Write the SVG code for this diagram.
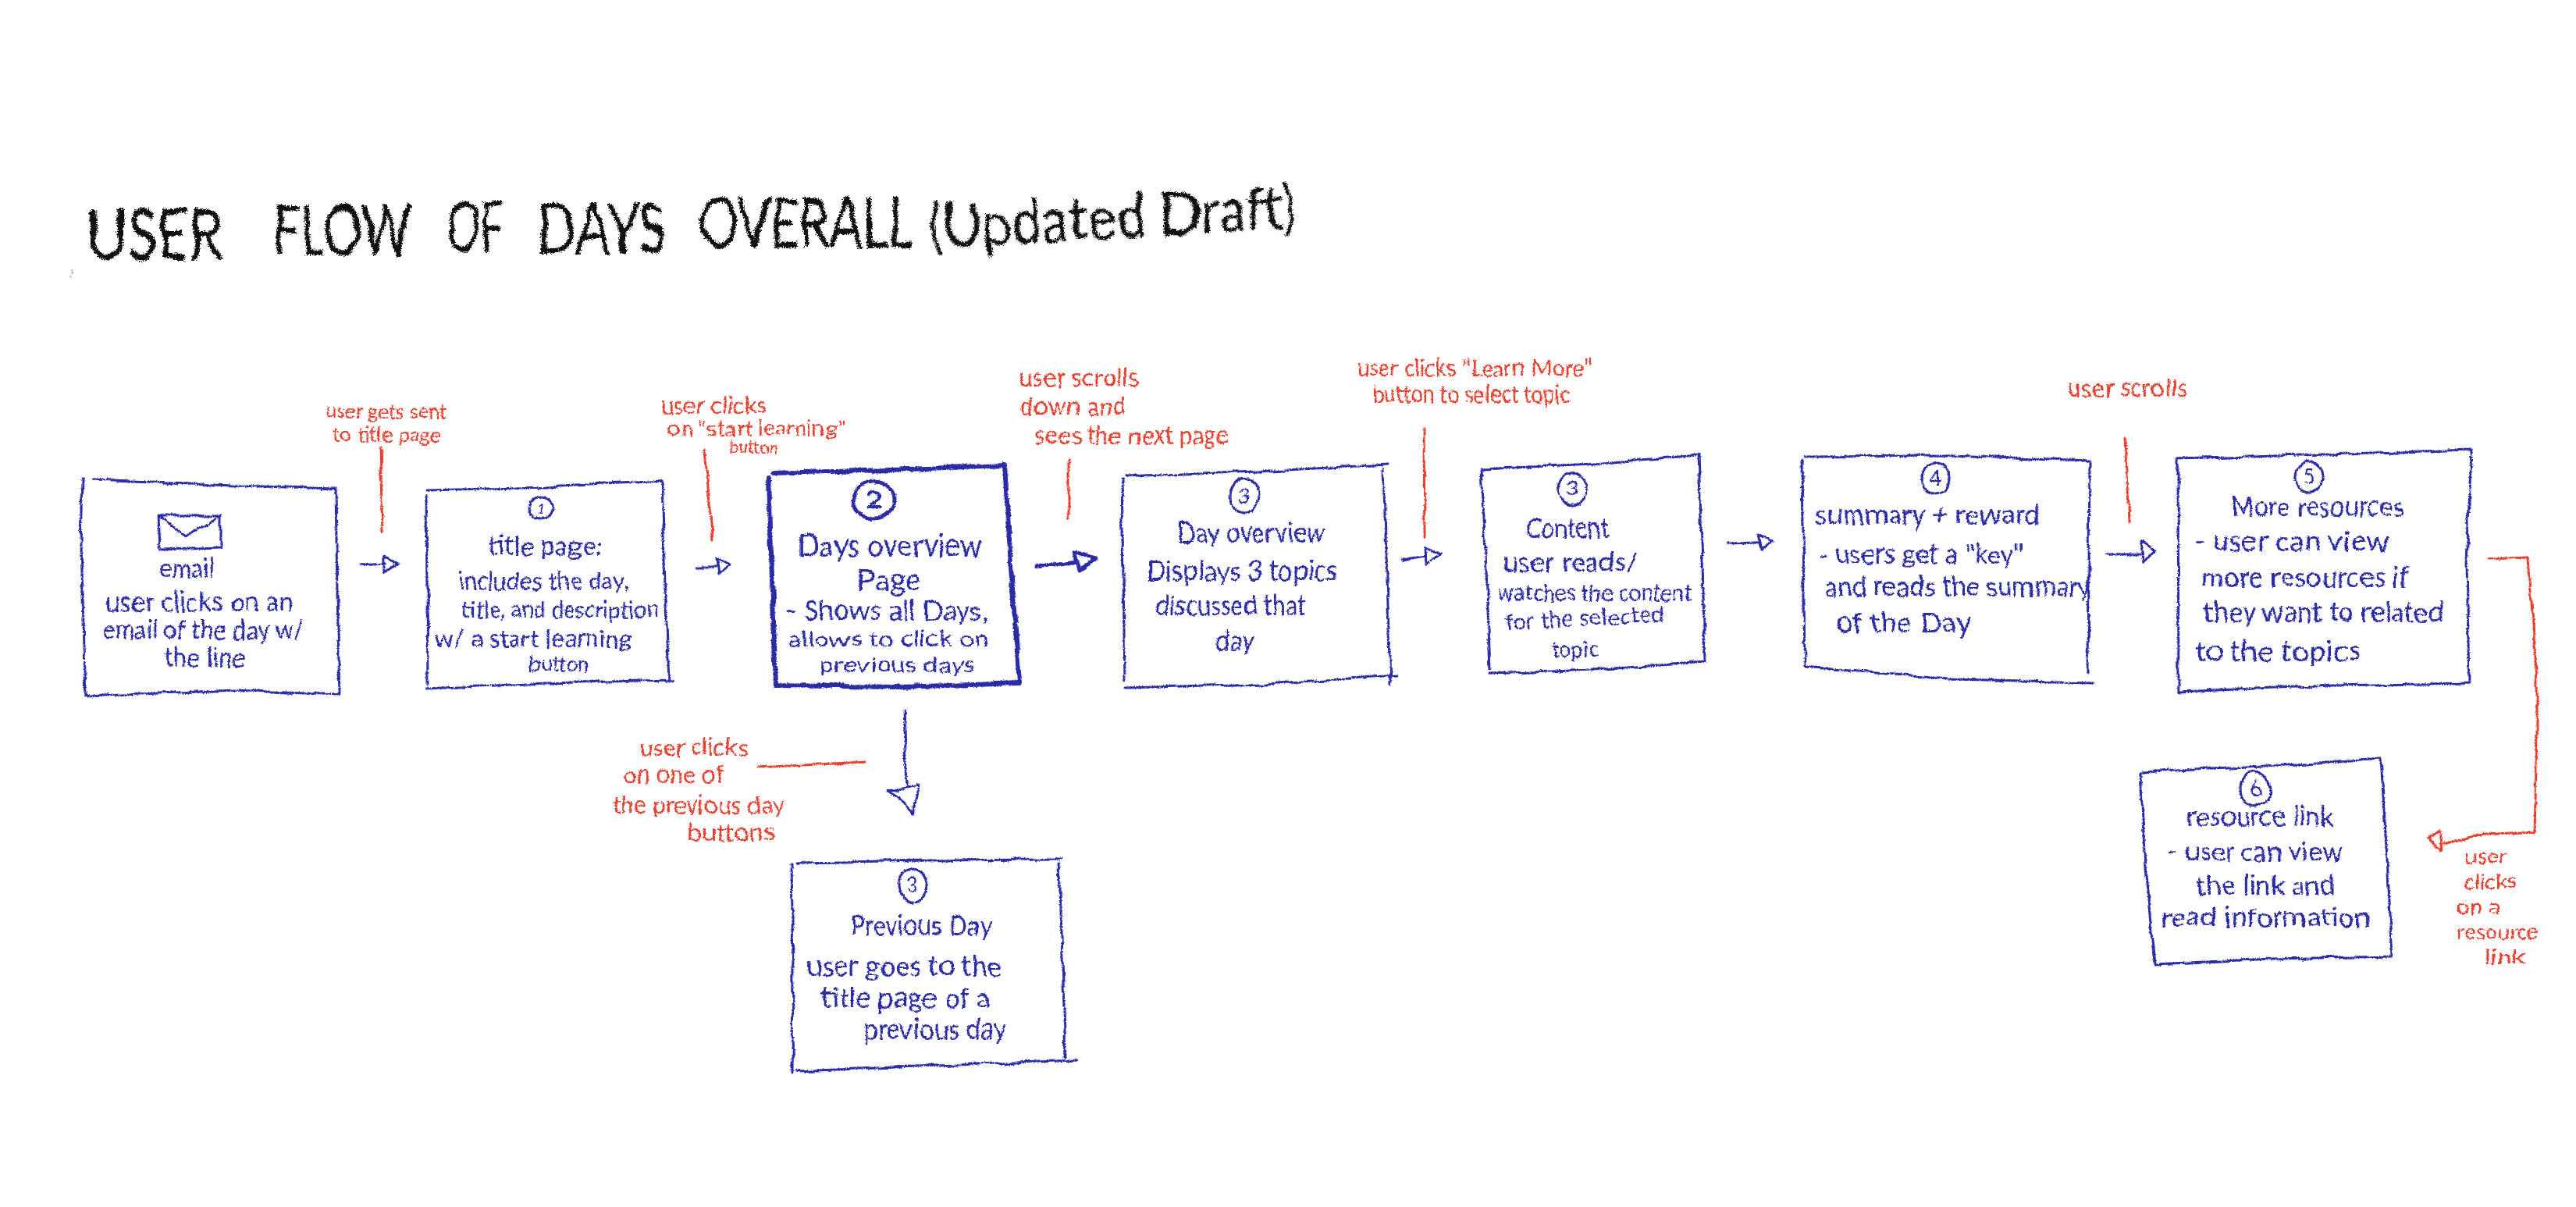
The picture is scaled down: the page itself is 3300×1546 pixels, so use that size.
<svg xmlns="http://www.w3.org/2000/svg" width="3300" height="1546" viewBox="0 0 3300 1546">
<style>
text{font-family:"Lato","Liberation Sans",sans-serif;}
.b{fill:#2b2ba6;font-size:34px;}
.bs{fill:#2b2ba6;font-size:30px;}
.bl{fill:#2b2ba6;font-size:41px;}
.m{fill:#2b2ba6;font-size:37px;}
.r{fill:#e8402e;font-size:27px;}
.rl{fill:#e8402e;font-size:33px;}
.rm{fill:#e8402e;font-size:30px;}
.n{fill:#2b2ba6;font-size:26px;text-anchor:middle;}
.t{fill:#111;font-size:92px;font-weight:400;}
.box,.circ,.ln{fill:none;stroke:#2b2ba6;stroke-width:3;stroke-linecap:round;stroke-linejoin:round;}
.thick{stroke-width:6;}
.red{fill:none;stroke:#e8402e;stroke-width:3;stroke-linecap:round;stroke-linejoin:round;}
</style>
<defs>
<filter id="rough" filterUnits="userSpaceOnUse" x="0" y="0" width="3300" height="1546" color-interpolation-filters="sRGB">
<feTurbulence type="fractalNoise" baseFrequency="0.035" numOctaves="2" seed="3" result="n1"/>
<feDisplacementMap in="SourceGraphic" in2="n1" scale="7" xChannelSelector="R" yChannelSelector="G" result="d1"/>
<feTurbulence type="fractalNoise" baseFrequency="0.7" numOctaves="1" seed="8" result="n2"/>
<feDisplacementMap in="d1" in2="n2" scale="3.5" xChannelSelector="G" yChannelSelector="R"/>
</filter>
<filter id="grain" filterUnits="userSpaceOnUse" x="0" y="180" width="1800" height="220" color-interpolation-filters="sRGB">
<feTurbulence type="fractalNoise" baseFrequency="0.04" numOctaves="2" seed="5" result="n1"/>
<feDisplacementMap in="SourceGraphic" in2="n1" scale="10" xChannelSelector="R" yChannelSelector="G" result="d1"/>
<feTurbulence type="fractalNoise" baseFrequency="0.6" numOctaves="2" seed="11" result="n2"/>
<feDisplacementMap in="d1" in2="n2" scale="7" xChannelSelector="G" yChannelSelector="R"/>
</filter>
</defs>
<rect width="3300" height="1546" fill="#fff"/>
<g id="title" filter="url(#grain)">
<text class="t"><tspan x="111" y="332" textLength="175" lengthAdjust="spacingAndGlyphs">USER</tspan> <tspan x="350" y="327" textLength="176" lengthAdjust="spacingAndGlyphs">FLOW</tspan> <tspan x="573" y="323" textLength="71" lengthAdjust="spacingAndGlyphs">OF</tspan> <tspan x="688" y="325" textLength="166" lengthAdjust="spacingAndGlyphs">DAYS</tspan> <tspan x="895" y="318" textLength="275" lengthAdjust="spacingAndGlyphs">OVERALL</tspan></text>
<text class="t" x="1191" y="318" textLength="472" lengthAdjust="spacingAndGlyphs" transform="rotate(-3.2 1191 318)" style="font-size:78px">(Updated Draft)</text>
<path d="M91 355L94 347" stroke="#aaa" stroke-width="1.5" fill="none"/>
</g>
<g filter="url(#rough)">
<g id="connectors">
<path class="red" d="M487 573L490 681"/>
<path class="ln" d="M462 724L494 722M492 713L510 722L492 733Z"/>
<path class="red" d="M903 577L913 692"/>
<path class="ln" d="M891 727L918 727M918 716L935 724L921 737Z"/>
<path class="red" d="M1369 587L1369 665"/>
<path class="ln thick" d="M1330 727L1379 720M1376 708L1404 715L1381 731Z" style="stroke-width:5"/>
<path class="red" d="M1824 549L1825 688"/>
<path class="ln" d="M1796 717L1826 712M1826 700L1846 710L1827 723Z"/>
<path class="ln" d="M2213 695L2252 694M2252 684L2269 693L2257 702Z"/>
<path class="red" d="M2723 562L2728 669"/>
<path class="ln" d="M2698 710L2746 710M2744 694L2762 706L2746 720Z"/>
<path class="ln" d="M1158 911L1162 1006M1177 1006L1138 1013Q1160 1024 1169 1042Z"/>
<path class="red" d="M970 983L1108 976"/>
<path class="red" d="M3188 716L3239 714L3250 872L3250 939L3247 1065L3170 1070L3130 1081M3109 1074L3125 1065L3128 1091Z"/>
</g>
<g id="annotations">
<text class="r" x="416" y="536" textLength="157" lengthAdjust="spacingAndGlyphs">user gets sent</text>
<text class="r" x="427" y="566" textLength="137" lengthAdjust="spacingAndGlyphs">to title page</text>
<text class="rm" x="846" y="530" textLength="136" lengthAdjust="spacingAndGlyphs">user clicks</text>
<text class="r" x="855" y="558" textLength="228" lengthAdjust="spacingAndGlyphs">on "start learning"</text>
<text class="r" x="935" y="581" textLength="61" lengthAdjust="spacingAndGlyphs" style="font-size:23px">button</text>
<text class="rl" x="1305" y="495" textLength="154" lengthAdjust="spacingAndGlyphs">user scrolls</text>
<text class="rl" x="1307" y="532" textLength="136" lengthAdjust="spacingAndGlyphs">down and</text>
<text class="rl" x="1327" y="569" textLength="247" lengthAdjust="spacingAndGlyphs">sees the next page</text>
<text class="rm" x="1737" y="482" textLength="302" lengthAdjust="spacingAndGlyphs">user clicks "Learn More"</text>
<text class="rm" x="1759" y="516" textLength="253" lengthAdjust="spacingAndGlyphs">button to select topic</text>
<text class="rl" x="2649" y="508" textLength="153" lengthAdjust="spacingAndGlyphs">user scrolls</text>
<text class="rm" x="819" y="968" textLength="139" lengthAdjust="spacingAndGlyphs">user clicks</text>
<text class="rm" x="798" y="1003" textLength="129" lengthAdjust="spacingAndGlyphs">on one of</text>
<text class="rm" x="784" y="1042" textLength="221" lengthAdjust="spacingAndGlyphs">the previous day</text>
<text class="rm" x="881" y="1077" textLength="112" lengthAdjust="spacingAndGlyphs">buttons</text>
<text class="r" x="3158" y="1107" textLength="55" lengthAdjust="spacingAndGlyphs">user</text>
<text class="r" x="3156" y="1139" textLength="68" lengthAdjust="spacingAndGlyphs">clicks</text>
<text class="r" x="3146" y="1171" textLength="56" lengthAdjust="spacingAndGlyphs">on a</text>
<text class="r" x="3147" y="1203" textLength="105" lengthAdjust="spacingAndGlyphs">resource</text>
<text class="r" x="3183" y="1235" textLength="52" lengthAdjust="spacingAndGlyphs">link</text>
</g>
<g id="node-email">
<path class="box" d="M119 615L270 621L430 626L432 760L435 890L300 884L110 892L104 700L106 615"/>
<path class="ln" d="M203 660L283 660L283 702L205 704L203 660M205 661L239 687L282 661"/>
<text class="b" x="203" y="740" textLength="71" lengthAdjust="spacingAndGlyphs">email</text>
<text class="b" x="135" y="783" textLength="241" lengthAdjust="spacingAndGlyphs">user clicks on an</text>
<text class="b" x="131" y="819" textLength="259" lengthAdjust="spacingAndGlyphs">email of the day w/</text>
<text class="b" x="210" y="855" textLength="105" lengthAdjust="spacingAndGlyphs">the line</text>
</g>
<g id="node-1">
<path class="box" d="M548 628L700 624L848 616L852 750L857 872M546 635L548 876M546 882L700 875L862 871"/>
<ellipse class="circ" cx="693" cy="651" rx="16" ry="14"/>
<text class="n" x="693" y="658" style="font-size:18px">1</text>
<text class="b" x="626" y="711" textLength="145" lengthAdjust="spacingAndGlyphs">title page:</text>
<text class="bs" x="587" y="755" textLength="219" lengthAdjust="spacingAndGlyphs">includes the day,</text>
<text class="bs" x="592" y="792" textLength="252" lengthAdjust="spacingAndGlyphs">title, and description</text>
<text class="bs" x="557" y="829" textLength="252" lengthAdjust="spacingAndGlyphs">w/ a start learning</text>
<text class="b" x="677" y="860" textLength="78" lengthAdjust="spacingAndGlyphs" style="font-size:26px">button</text>
</g>
<g id="node-2">
<path class="box thick" d="M990 606L1140 602L1287 596L1296 740L1306 875L1150 880L994 878L989 740L985 612"/>
<ellipse class="circ" style="stroke-width:5" cx="1119" cy="640" rx="26" ry="24"/>
<text class="n" x="1119" y="652" style="font-size:34px;font-weight:700">2</text>
<text class="bl" x="1022" y="713" textLength="236" lengthAdjust="spacingAndGlyphs">Days overview</text>
<text class="bl" x="1099" y="757" textLength="80" lengthAdjust="spacingAndGlyphs">Page</text>
<text class="m" x="1008" y="794" textLength="257" lengthAdjust="spacingAndGlyphs" style="font-size:34px">- Shows all Days,</text>
<text class="m" x="1010" y="828" textLength="258" lengthAdjust="spacingAndGlyphs" style="font-size:27px">allows to click on</text>
<text class="m" x="1050" y="861" textLength="199" lengthAdjust="spacingAndGlyphs" style="font-size:27px">previous days</text>
</g>
<g id="node-3-overview">
<path class="box" d="M1441 611L1610 604L1778 595M1772 601L1777 740L1781 878M1437 614L1441 872M1442 881L1620 876L1788 865"/>
<ellipse class="circ" cx="1594" cy="635" rx="18" ry="22"/>
<text class="n" x="1594" y="644">3</text>
<text class="m" x="1508" y="695" textLength="190" lengthAdjust="spacingAndGlyphs">Day overview</text>
<text class="m" x="1469" y="744" textLength="244" lengthAdjust="spacingAndGlyphs">Displays 3 topics</text>
<text class="m" x="1481" y="788" textLength="192" lengthAdjust="spacingAndGlyphs">discussed that</text>
<text class="m" x="1558" y="833" textLength="48" lengthAdjust="spacingAndGlyphs">day</text>
</g>
<g id="node-3-content">
<path class="box" d="M1900 601L2040 594L2176 583L2181 720L2184 848L2040 858L1908 863M1898 600L1904 730L1909 857"/>
<ellipse class="circ" cx="2014" cy="626" rx="19" ry="21"/>
<text class="n" x="2014" y="635">3</text>
<text class="m" x="1954" y="689" textLength="108" lengthAdjust="spacingAndGlyphs">Content</text>
<text class="m" x="1925" y="733" textLength="174" lengthAdjust="spacingAndGlyphs">user reads/</text>
<text class="bs" x="1918" y="770" textLength="249" lengthAdjust="spacingAndGlyphs">watches the content</text>
<text class="bs" x="1929" y="807" textLength="203" lengthAdjust="spacingAndGlyphs" transform="rotate(-3 1929 807)">for the selected</text>
<text class="bs" x="1987" y="842" textLength="61" lengthAdjust="spacingAndGlyphs" style="font-size:28px">topic</text>
</g>
<g id="node-4">
<path class="box" d="M2312 585L2500 584L2677 591L2676 730L2675 862M2309 589L2312 854L2497 870L2681 874"/>
<ellipse class="circ" cx="2480" cy="613" rx="17" ry="20"/>
<text class="n" x="2480" y="622">4</text>
<text class="m" x="2325" y="672" textLength="288" lengthAdjust="spacingAndGlyphs">summary + reward</text>
<text class="b" x="2330" y="722" textLength="262" lengthAdjust="spacingAndGlyphs">- users get a "key"</text>
<text class="m" x="2337" y="764" textLength="342" lengthAdjust="spacingAndGlyphs">and reads the summary</text>
<text class="m" x="2352" y="810" textLength="174" lengthAdjust="spacingAndGlyphs">of the Day</text>
</g>
<g id="node-5">
<path class="box" d="M2790 588L2980 582L3166 576L3160 720L3163 875L2990 878L2791 886L2790 588"/>
<ellipse class="circ" cx="2958" cy="611" rx="17" ry="20"/>
<text class="n" x="2958" y="620">5</text>
<text class="b" x="2858" y="661" textLength="221" lengthAdjust="spacingAndGlyphs">More resources</text>
<text class="m" x="2810" y="706" textLength="251" lengthAdjust="spacingAndGlyphs">- user can view</text>
<text class="m" x="2820" y="752" textLength="266" lengthAdjust="spacingAndGlyphs">more resources if</text>
<text class="m" x="2822" y="797" textLength="309" lengthAdjust="spacingAndGlyphs">they want to related</text>
<text class="m" x="2812" y="847" textLength="212" lengthAdjust="spacingAndGlyphs">to the topics</text>
</g>
<g id="node-6">
<path class="box" d="M2742 989L2900 982L3050 971L3058 1100L3065 1225L2910 1228L2760 1235L2748 1110L2742 989"/>
<ellipse class="circ" cx="2889" cy="1010" rx="19" ry="22"/>
<text class="n" x="2889" y="1019" style="font-size:28px">6</text>
<text class="b" x="2801" y="1058" textLength="188" lengthAdjust="spacingAndGlyphs">resource link</text>
<text class="b" x="2777" y="1103" textLength="224" lengthAdjust="spacingAndGlyphs">- user can view</text>
<text class="b" x="2814" y="1146" textLength="178" lengthAdjust="spacingAndGlyphs">the link and</text>
<text class="b" x="2769" y="1187" textLength="267" lengthAdjust="spacingAndGlyphs">read information</text>
</g>
<g id="node-3-previous">
<path class="box" d="M1020 1105L1190 1102L1361 1101M1357 1107L1361 1230L1365 1354M1014 1106L1016 1240L1015 1375M1020 1372L1200 1365L1379 1358"/>
<ellipse class="circ" cx="1169" cy="1134" rx="18" ry="21"/>
<text class="n" x="1169" y="1143">3</text>
<text class="m" x="1089" y="1198" textLength="182" lengthAdjust="spacingAndGlyphs">Previous Day</text>
<text class="m" x="1033" y="1250" textLength="250" lengthAdjust="spacingAndGlyphs">user goes to the</text>
<text class="m" x="1052" y="1291" textLength="217" lengthAdjust="spacingAndGlyphs">title page of a</text>
<text class="m" x="1106" y="1331" textLength="183" lengthAdjust="spacingAndGlyphs">previous day</text>
</g>
</g>
</svg>
